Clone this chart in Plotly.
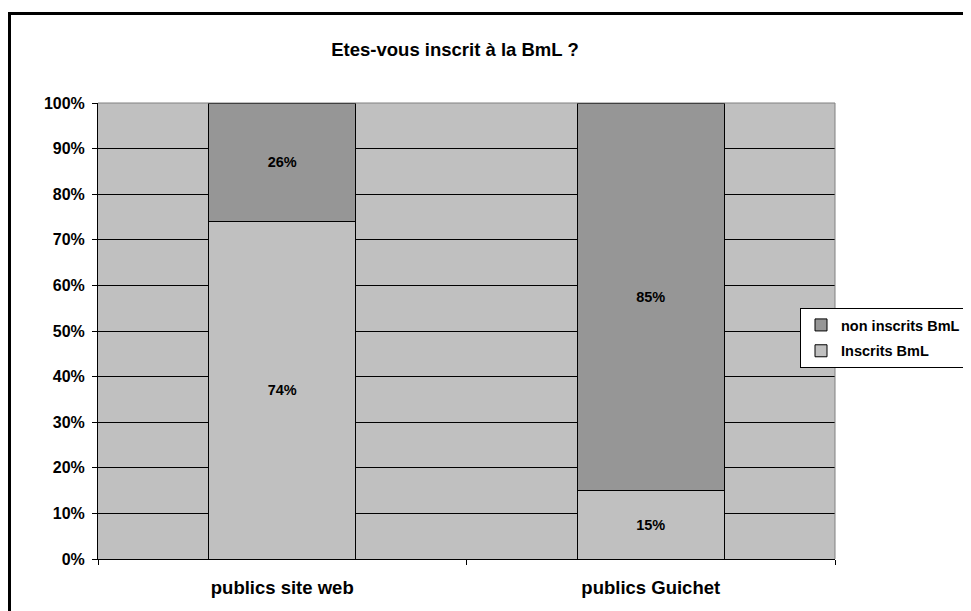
import plotly.graph_objects as go

categories = ["publics site web", "publics Guichet"]
inscrits = [0.74, 0.15]
non_inscrits = [0.26, 0.85]
inscrits_labels = ["74%", "15%"]
non_inscrits_labels = ["26%", "85%"]
title_text = "Etes-vous inscrit à la BmL ?"

FONT = "Liberation Sans, Arial, sans-serif"

fig = go.Figure()
fig.add_trace(go.Bar(
    x=categories, y=inscrits, name="<b>Inscrits BmL</b>", legendgroup="a", legendrank=2,
    text=["<b>" + t + "</b>" for t in inscrits_labels],
    textposition="inside", insidetextanchor="middle",
    textfont=dict(family=FONT, size=14.5, color="black"),
    marker=dict(color="#C0C0C0", line=dict(color="black", width=1)),
    width=0.4, hoverinfo="skip",
))
fig.add_trace(go.Bar(
    x=categories, y=non_inscrits, name="<b>non inscrits BmL</b>", legendgroup="b", legendrank=1,
    text=["<b>" + t + "</b>" for t in non_inscrits_labels],
    textposition="inside", insidetextanchor="middle",
    textfont=dict(family=FONT, size=14.5, color="black"),
    marker=dict(color="#969696", line=dict(color="black", width=1)),
    width=0.4, hoverinfo="skip",
))

# page body has an 8px margin; work in screen pixels and convert
OFF = 8
W, H = 971 - OFF, 611 - OFF
PX0, PX1, PY0, PY1 = 98, 835, 103, 559  # plot area in screen pixels
L, T = PX0 - OFF, PY0 - OFF
R, B = W - (PX1 - OFF), H - (PY1 - OFF)
pw, ph = PX1 - PX0, PY1 - PY0

def px_x(x):
    return (x - PX0) / pw

def px_y(y):
    return (PY1 - y) / ph

fig.update_layout(
    width=W, height=H,
    margin=dict(l=L, r=R, t=T, b=B, autoexpand=False),
    paper_bgcolor="white", plot_bgcolor="#C0C0C0",
    barmode="stack",
    font=dict(family=FONT, color="black"),
    title=dict(text="<b>" + title_text + "</b>", x=px_x(455), xref="paper", xanchor="center",
               y=1 - (50 - OFF) / H, yref="container", yanchor="middle",
               font=dict(size=18.5, family=FONT, color="black")),
    showlegend=True,
    legend=dict(x=px_x(800), y=px_y(308), xanchor="left", yanchor="top",
                traceorder="grouped", tracegroupgap=4,
                bgcolor="white", bordercolor="black", borderwidth=1,
                font=dict(size=14.5, family=FONT, color="black")),
    xaxis=dict(type="category", tickson="boundaries", ticks="outside", ticklen=5,
               tickcolor="black", showline=True, linecolor="black", linewidth=1,
               showgrid=False, tickfont=dict(size=18.5, family=FONT, color="black"),
               tickvals=categories, ticktext=["<b>" + c + "</b>" for c in categories],
               ticklabelstandoff=12),
    yaxis=dict(range=[0, 1], ticks="outside", ticklen=5,
               tickcolor="black", showline=True, linecolor="black", linewidth=1,
               showgrid=True, gridcolor="black", gridwidth=1, zeroline=False,
               tickvals=[i / 10 for i in range(11)],
               ticktext=["<b>%d%%</b>" % (i * 10) for i in range(11)],
               tickfont=dict(size=16, family=FONT, color="black"), ticklabelstandoff=4),
)

shapes = [
    dict(type="line", xref="paper", yref="paper", x0=0, x1=1, y0=1, y1=1,
         line=dict(color="#808080", width=1), layer="above"),
    dict(type="line", xref="paper", yref="paper", x0=1, x1=1, y0=0, y1=1,
         line=dict(color="#808080", width=1), layer="above"),
    dict(type="rect", xref="paper", yref="paper",
         x0=px_x(9.5), x1=px_x(990), y0=px_y(630), y1=px_y(13.5),
         line=dict(color="black", width=3), fillcolor="rgba(0,0,0,0)", layer="above"),
]
fig.update_layout(shapes=shapes)

fig.write_html("out.html")
